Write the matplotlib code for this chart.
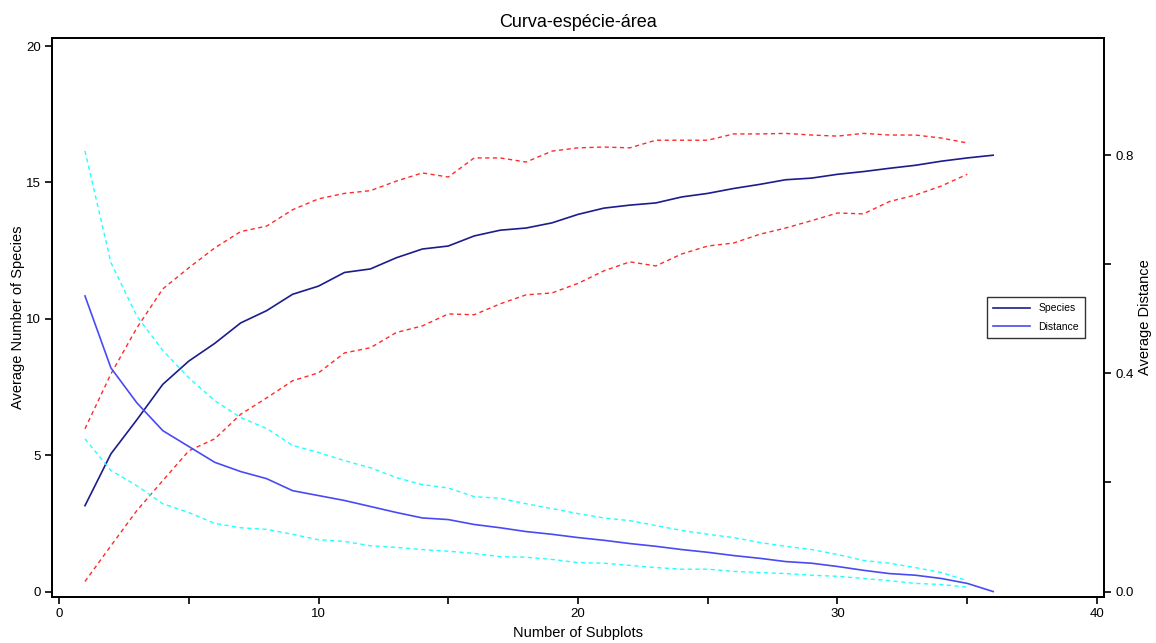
import numpy as np
import matplotlib
matplotlib.use("Agg")
import matplotlib.pyplot as plt

plt.rcParams['font.family'] = ['Liberation Sans', 'DejaVu Sans']

# number of subplots
subplots = list(range(1, 37))
subplots_ci = list(range(1, 36))

# average number of species (left axis)
species = [3.15, 5.05, 6.3, 7.6, 8.45, 9.1, 9.85, 10.3, 10.9, 11.2,
           11.7, 11.83, 12.24, 12.56, 12.67, 13.04, 13.25, 13.33, 13.52, 13.83,
           14.06, 14.17, 14.25, 14.47, 14.6, 14.78, 14.93, 15.1, 15.16, 15.3,
           15.4, 15.52, 15.63, 15.78, 15.9, 16.0]
species_upper = [5.97, 7.98, 9.67, 11.1, 11.87, 12.6, 13.2, 13.4, 14.0, 14.4,
                 14.6, 14.7, 15.05, 15.35, 15.2, 15.9, 15.9, 15.75, 16.15, 16.27,
                 16.3, 16.27, 16.55, 16.55, 16.55, 16.78, 16.78, 16.8, 16.74, 16.7,
                 16.8, 16.74, 16.74, 16.63, 16.45]
species_lower = [0.37, 1.68, 2.97, 4.07, 5.16, 5.6, 6.5, 7.1, 7.73, 8.02,
                 8.75, 8.94, 9.5, 9.74, 10.18, 10.15, 10.55, 10.88, 10.95, 11.3,
                 11.76, 12.09, 11.94, 12.38, 12.67, 12.78, 13.1, 13.33, 13.6, 13.88,
                 13.85, 14.3, 14.54, 14.87, 15.3]

# average distance (right axis)
distance = [0.542, 0.41, 0.346, 0.295, 0.266, 0.237, 0.22, 0.207, 0.185, 0.176,
            0.167, 0.156, 0.145, 0.135, 0.132, 0.123, 0.117, 0.11, 0.105, 0.099,
            0.094, 0.088, 0.083, 0.077, 0.072, 0.066, 0.061, 0.055, 0.052, 0.046,
            0.039, 0.033, 0.03, 0.024, 0.015, 0.0]
distance_upper = [0.808, 0.603, 0.505, 0.442, 0.392, 0.35, 0.319, 0.299, 0.268, 0.255,
                  0.24, 0.227, 0.209, 0.196, 0.19, 0.174, 0.171, 0.161, 0.152, 0.143,
                  0.135, 0.13, 0.121, 0.112, 0.105, 0.099, 0.09, 0.083, 0.077, 0.068,
                  0.057, 0.052, 0.044, 0.035, 0.02]
distance_lower = [0.28, 0.222, 0.194, 0.161, 0.145, 0.125, 0.117, 0.114, 0.105, 0.095,
                  0.092, 0.084, 0.081, 0.077, 0.074, 0.07, 0.064, 0.063, 0.059, 0.053,
                  0.052, 0.048, 0.044, 0.041, 0.041, 0.037, 0.035, 0.033, 0.03, 0.028,
                  0.024, 0.02, 0.015, 0.013, 0.008]

fig = plt.figure(figsize=(11.56, 6.43), dpi=100)
ax = fig.add_axes([0.045, 0.0715, 0.91, 0.8695])
ax2 = ax.twinx()

dash = (0, (3, 2.5))
ax.plot(subplots_ci, species_upper, color='#ff2a2a', lw=1, ls=dash)
ax.plot(subplots_ci, species_lower, color='#ff2a2a', lw=1, ls=dash)
l1, = ax.plot(subplots, species, color='#1c1c8c', lw=1.2, label='Species')

ax2.plot(subplots_ci, distance_upper, color='#22ffff', lw=1, ls=dash)
ax2.plot(subplots_ci, distance_lower, color='#22ffff', lw=1, ls=dash)
l2, = ax2.plot(subplots, distance, color='#4a4af5', lw=1.2, label='Distance')

ax.set_xlim(-0.27, 40.27)
ax.set_ylim(-0.2, 20.3)
ax2.set_ylim(-0.01, 1.015)

ax.set_xticks(range(0, 41, 5))
ax.set_xticklabels(['0', '', '10', '', '20', '', '30', '', '40'])
ax.set_yticks([0, 5, 10, 15, 20])
ax2.set_yticks([0, 0.2, 0.4, 0.6, 0.8])
ax2.set_yticklabels(['0.0', '', '0.4', '', '0.8'])

for a in (ax, ax2):
    a.tick_params(direction='out', length=5, width=1.2, labelsize=9.5, pad=3)
    for s in a.spines.values():
        s.set_linewidth(1.3)

ax.set_title('Curva-espécie-área', fontsize=13, pad=8)
ax.set_xlabel('Number of Subplots', fontsize=10.5, labelpad=4)
ax.set_ylabel('Average Number of Species', fontsize=10.5, labelpad=1)
ax2.set_ylabel('Average Distance', fontsize=10.5, labelpad=3)

leg = ax2.legend([l1, l2], ['Species', 'Distance'], loc='center right',
                 bbox_to_anchor=(0.987, 0.5), fontsize=7.5, frameon=True,
                 fancybox=False, edgecolor='black', handlelength=3.5,
                 borderpad=0.6, labelspacing=0.8)
leg.get_frame().set_linewidth(1)

fig.savefig('out.png', dpi=100)
